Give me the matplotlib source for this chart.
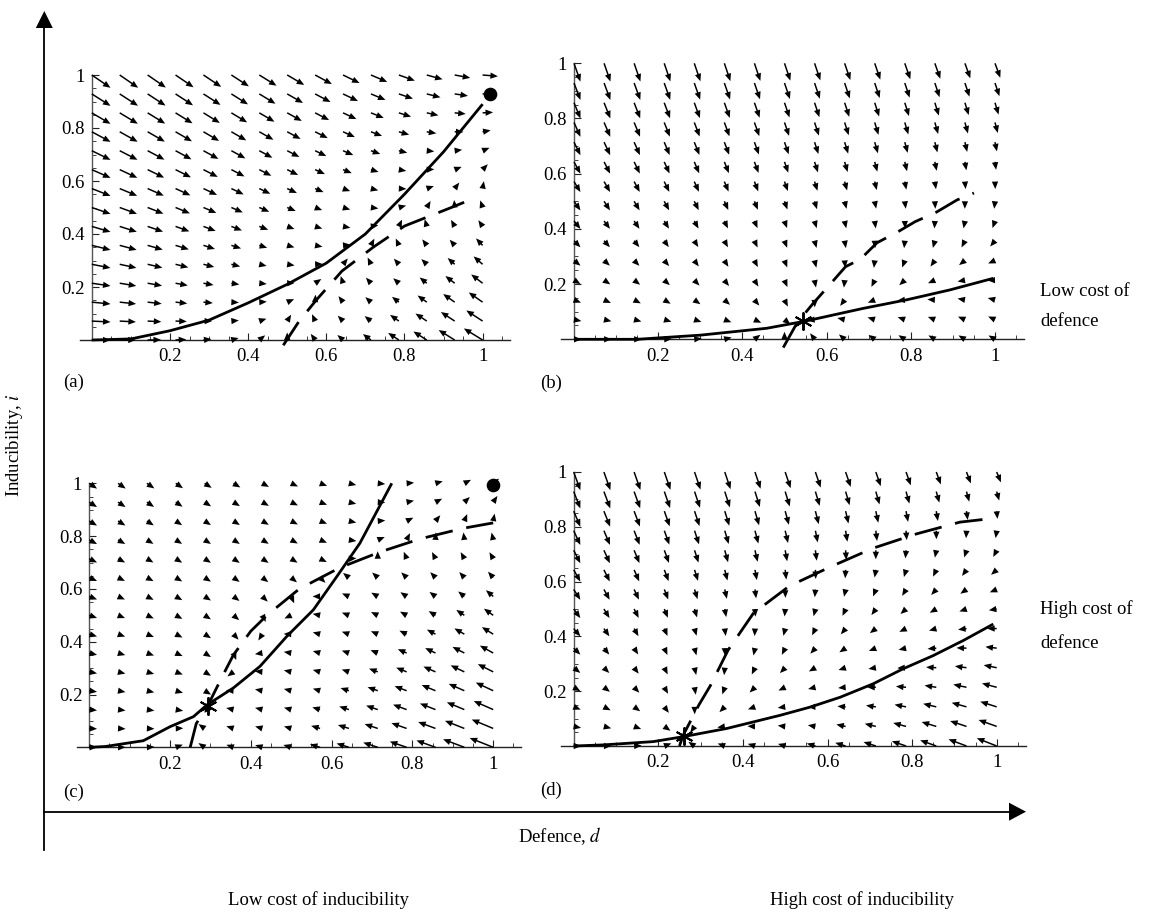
import numpy as np
import matplotlib
matplotlib.use("Agg")
import matplotlib.pyplot as plt

plt.rcParams['font.family'] = ['Liberation Serif', 'DejaVu Serif']
plt.rcParams['mathtext.fontset'] = 'stix'

# ---------------- data ----------------
panel_labels = ['(a)', '(b)', '(c)', '(d)']

# solid curves (d, i)
solid_d_a = [0, 0.1, 0.2, 0.3, 0.4, 0.5, 0.6, 0.7, 0.8, 0.9, 1.0]
solid_i_a = [0, 0.004, 0.035, 0.075, 0.14, 0.21, 0.29, 0.40, 0.55, 0.71, 0.89]
solid_d_b = [0, 0.15, 0.2, 0.3, 0.458, 0.55, 0.687, 0.79, 0.893, 0.996]
solid_i_b = [0, 0, 0.005, 0.015, 0.04, 0.066, 0.112, 0.143, 0.179, 0.221]
solid_d_c = [0, 0.04, 0.134, 0.2, 0.258, 0.291, 0.357, 0.423, 0.489, 0.555, 0.613, 0.67, 0.749]
solid_i_c = [0, 0.003, 0.025, 0.078, 0.116, 0.16, 0.225, 0.307, 0.42, 0.521, 0.647, 0.773, 1.0]
solid_d_d = [0, 0.07, 0.188, 0.259, 0.362, 0.425, 0.488, 0.559, 0.63, 0.708, 0.779, 0.85, 0.921, 0.992]
solid_i_d = [0, 0.004, 0.016, 0.034, 0.064, 0.088, 0.112, 0.142, 0.178, 0.227, 0.282, 0.33, 0.385, 0.445]

# dashed curves (d, i)
dashed_d_a = [0.49, 0.53, 0.574, 0.64, 0.72, 0.80, 0.86, 0.92, 0.97]
dashed_i_a = [-0.02, 0.07, 0.15, 0.26, 0.35, 0.43, 0.465, 0.50, 0.53]
dashed_d_b = [0.497, 0.53, 0.568, 0.60, 0.645, 0.68, 0.72, 0.77, 0.81, 0.86, 0.91, 0.95]
dashed_i_b = [-0.03, 0.06, 0.13, 0.185, 0.263, 0.29, 0.35, 0.39, 0.426, 0.46, 0.505, 0.53]
dashed_d_c = [0.25, 0.265, 0.291, 0.33, 0.357, 0.40, 0.44, 0.52, 0.62, 0.72, 0.82, 0.927, 1.0]
dashed_i_c = [0.0, 0.09, 0.15, 0.27, 0.35, 0.44, 0.50, 0.60, 0.68, 0.74, 0.79, 0.83, 0.85]
dashed_d_d = [0.25, 0.259, 0.296, 0.323, 0.365, 0.425, 0.51, 0.61, 0.708, 0.81, 0.913, 0.998]
dashed_i_d = [0.0, 0.04, 0.15, 0.22, 0.35, 0.485, 0.584, 0.656, 0.722, 0.774, 0.817, 0.832]

solid_d = [solid_d_a, solid_d_b, solid_d_c, solid_d_d]
solid_i = [solid_i_a, solid_i_b, solid_i_c, solid_i_d]
dashed_d = [dashed_d_a, dashed_d_b, dashed_d_c, dashed_d_d]
dashed_i = [dashed_i_a, dashed_i_b, dashed_i_c, dashed_i_d]

# vector-field parameters (per panel)
dashed_root = [0.5, 0.5, 0.25, 0.25]   # where the dashed curve meets i = 0
solid_coef = [0.9, 0.21, 1.75, 0.43]   # solid curve ~ coef * d^2
dashed_ceiling = 1.1                   # dashed curve levels off toward this i

# equilibria
dot_d = [1.02, None, 1.0, None]
dot_i = [0.93, None, 0.993, None]
star_d = [None, 0.545, 0.293, 0.26]
star_i = [None, 0.065, 0.155, 0.035]

x_ticks = [0.2, 0.4, 0.6, 0.8, 1.0]
x_ticklabels = ['0.2', '0.4', '0.6', '0.8', '1']
y_ticks = [0.2, 0.4, 0.6, 0.8, 1.0]
y_ticklabels = ['0.2', '0.4', '0.6', '0.8', '1']

# ---------------- layout (pixels) ----------------
W, H = 1152, 914
fig = plt.figure(figsize=(W / 100, H / 100), dpi=100)

# d=0 pixel x, px per unit d, i=0 pixel y, px per unit i
geom = [(91.8, 390.8, 340.0, 265.0),
        (574.0, 421.0, 339.3, 276.0),
        (89.2, 404.0, 747.3, 264.0),
        (573.7, 423.0, 746.0, 274.0)]
label_pos = [(63, 382), (540, 383), (63, 792), (540, 790)]

xlim = (-0.08, 1.1)
ylim = (-0.08, 1.08)
grid = np.linspace(0, 1, 15)
D, I = np.meshgrid(grid, grid)

shaft_w = 1.5          # px
head_len = 5.0         # in shaft widths
head_len_px = shaft_w * head_len

for p in range(4):
    x0, xu, y0, yu = geom[p]
    left = x0 + xlim[0] * xu
    width = (xlim[1] - xlim[0]) * xu
    top_px = y0 - ylim[1] * yu
    bot_px = y0 - ylim[0] * yu
    ax = fig.add_axes([left / W, (H - bot_px) / H, width / W, (bot_px - top_px) / H])
    ax.set_xlim(*xlim)
    ax.set_ylim(*ylim)
    ax.patch.set_visible(False)

    for s in ['top', 'right']:
        ax.spines[s].set_visible(False)
    ax.spines['left'].set_position(('data', 0))
    ax.spines['bottom'].set_position(('data', 0))
    ax.spines['left'].set_bounds(0, 1.0)
    ax.spines['bottom'].set_bounds(-0.03, 1.07)
    ax.spines['left'].set_color('#555555')
    ax.spines['bottom'].set_color('#222222')
    ax.spines['left'].set_linewidth(1.0)
    ax.spines['bottom'].set_linewidth(1.0)

    ax.set_xticks(x_ticks)
    ax.set_xticklabels(x_ticklabels)
    ax.set_yticks(y_ticks)
    ax.set_yticklabels(y_ticklabels)
    ax.set_xticks([round(0.05 * k, 2) for k in range(1, 22) if k % 4 != 0], minor=True)
    ax.set_yticks([round(0.05 * k, 2) for k in range(1, 20) if k % 4 != 0], minor=True)
    ax.tick_params(which='both', direction='in', colors='#222222', labelcolor='black')
    ax.tick_params(which='major', length=5, width=0.8, labelsize=13.5)
    ax.tick_params(which='minor', length=3, width=0.6)
    ax.tick_params(axis='x', which='major', pad=6)
    ax.tick_params(axis='y', which='major', pad=5)

    # vector field: gradient whose zero-lines follow the dashed / solid curves
    alpha = 1.0 / (2 * dashed_ceiling)
    du = dashed_root[p] - D + D * I / dashed_ceiling
    di = alpha * D ** 2 - (alpha / solid_coef[p]) * I
    mag = np.hypot(du, di)
    sc = 0.068 / mag.max()
    U = du * sc
    V = di * sc
    # very short vectors are drawn as a bare arrowhead (as in the original)
    Lpx = np.hypot(U * xu, V * yu)
    grow = np.where(Lpx < head_len_px, head_len_px / np.maximum(Lpx, 1e-9), 1.0)
    U = U * grow
    V = V * grow
    q = ax.quiver(D, I, U, V, angles='xy', scale_units='xy', scale=1,
                  units='dots', width=shaft_w, headlength=head_len,
                  headaxislength=head_len, headwidth=4.2, minshaft=0,
                  minlength=0, pivot='tail', color='black', zorder=3)
    q.set_clip_on(False)

    ax.plot(solid_d[p], solid_i[p], color='black', lw=2.0, solid_capstyle='butt',
            zorder=4, clip_on=False)
    ax.plot(dashed_d[p], dashed_i[p], color='black', lw=2.0, dashes=(10, 5),
            dash_capstyle='butt', zorder=4, clip_on=False)

    if dot_d[p] is not None:
        ax.plot([dot_d[p]], [dot_i[p]], 'o', color='black', ms=8.8, zorder=5,
                clip_on=False)
    if star_d[p] is not None:
        ax.plot([star_d[p]], [star_i[p]], marker=(6, 2, 0), color='black', ms=13,
                mew=1.4, linestyle='none', zorder=5, clip_on=False)

# ---------------- overlay: big axes & labels ----------------
ov = fig.add_axes([0, 0, 1, 1])
ov.set_xlim(0, W)
ov.set_ylim(H, 0)
ov.axis('off')
ov.patch.set_visible(False)

ov.plot([44.3, 44.3], [850, 27], color='black', lw=1.3)
ov.fill([35.8, 52.8, 44.3], [28, 28, 11], color='black', lw=0)
ov.plot([44.3, 1010], [811.7, 811.7], color='black', lw=1.3)
ov.fill([1009, 1009, 1026], [802.7, 820.7, 811.7], color='black', lw=0)

for (lx, ly), lab in zip(label_pos, panel_labels):
    ov.text(lx, ly, lab, fontsize=13.5, ha='left', va='center')

ov.text(15, 445, 'Inducibility, $i$', fontsize=13.5, rotation=90, ha='center', va='center')
ov.text(560, 836, 'Defence, $d$', fontsize=13.5, ha='center', va='center')
ov.text(318, 900, 'Low cost of inducibility', fontsize=13.5, ha='center', va='center')
ov.text(862, 900, 'High cost of inducibility', fontsize=13.5, ha='center', va='center')
ov.text(1040, 292, 'Low cost of', fontsize=13.5, ha='left', va='center')
ov.text(1040, 322, 'defence', fontsize=13.5, ha='left', va='center')
ov.text(1040, 609, 'High cost of', fontsize=13.5, ha='left', va='center')
ov.text(1040, 643, 'defence', fontsize=13.5, ha='left', va='center')

fig.savefig('out.png', dpi=100)
